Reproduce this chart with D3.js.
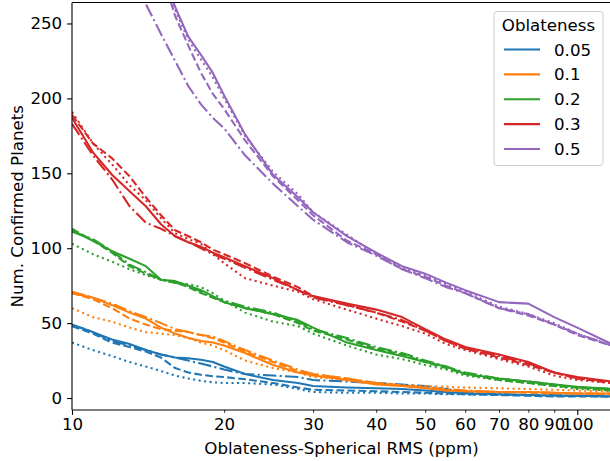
<!DOCTYPE html>
<html>
<head>
<meta charset="utf-8">
<script src="https://cdn.jsdelivr.net/npm/d3@7"></script>
<style>
  html, body { margin: 0; padding: 0; background: #fff; }
  svg { display: block; font-family: "DejaVu Sans", sans-serif; }
</style>
</head>
<body>
<svg id="chart" width="610" height="461"></svg>
<script>
// RMS sample positions (ppm)
const xs = [10, 11, 12, 13, 14, 15, 16, 17, 18, 19, 20, 22, 25, 28, 30, 35, 40, 45, 50, 55, 60, 70, 80, 90, 100, 117];

const oblateness = ["0.05", "0.1", "0.2", "0.3", "0.5"];
const colors = ["#1f77b4", "#ff7f0e", "#2ca02c", "#d62728", "#9467bd"];
const styles = ["solid", "dashed", "dotted", "dashdot"];

// Number of confirmed planets above each RMS value, per oblateness and run
const obl005Solid   = [49, 44, 39, 36, 32, 29, 27, 26.5, 25.5, 24, 21, 16, 12, 10, 8, 7, 6.5, 6, 5, 4, 3, 2.5, 2, 1.5, 1.5, 1];
const obl005Dashed  = [48, 43, 37, 34, 31, 27, 20, 17, 15.5, 14.5, 14, 12.5, 10, 7, 5.5, 5, 4.5, 4, 3.5, 3, 2.5, 2, 1.5, 1, 1, 1];
const obl005Dotted  = [37, 32, 28, 24, 21, 18, 15, 13, 11.5, 10.5, 10, 10, 9, 6, 4, 3.5, 3.5, 3, 3, 2.5, 2.5, 2, 2, 1.5, 1.5, 1];
const obl005DashDot = [49, 44, 38, 35, 32, 29, 27, 25, 23, 21, 19, 16, 15, 14, 12, 11, 10, 9, 8, 6, 3.5, 2.5, 2, 2, 1.5, 1.5];

const obl01Solid    = [70, 67, 62, 57, 53, 47, 43, 40, 38, 37, 35, 30, 22, 17, 15, 12, 9, 8, 6.5, 5, 4.5, 4, 4, 3.5, 3, 3];
const obl01Dashed   = [70, 66, 60, 53, 49, 46, 45, 44, 42, 40, 37, 31, 24, 18, 16, 13, 10, 8, 7, 5, 4.5, 4, 3.5, 3, 3, 2.5];
const obl01Dotted   = [60, 54, 51, 47, 44, 43, 42, 40, 37, 35, 32, 25, 20, 17, 14, 12, 10, 8.5, 8, 7.5, 7, 6.5, 6, 5.5, 5, 4.5];
const obl01DashDot  = [71, 67, 63, 58, 54, 50, 46, 44, 42, 41, 38, 32, 25, 19, 16, 13, 10, 8.5, 7, 6, 5, 4, 4, 3.5, 3, 3];

const obl02Solid    = [112, 105, 98, 93, 88, 79, 78, 75, 72, 68, 64, 60, 56, 52, 47, 37, 32, 28, 24, 21, 16, 13, 11, 9, 7.5, 6];
const obl02Dashed   = [113, 105, 97, 88, 83, 79, 77, 74, 70, 67, 64, 60, 56, 50, 45, 39, 33, 29, 24, 20, 16, 12, 10, 8, 7, 5];
const obl02Dotted   = [103, 96, 91, 86, 82, 79, 77, 76, 74, 70, 65, 57, 51, 48, 43, 35, 29, 26, 22, 19, 15, 12, 10, 8, 6, 5];
const obl02DashDot  = [111, 106, 98, 89, 84, 79, 77, 75, 71, 67, 65, 61, 57, 51, 46, 40, 34, 30, 25, 21, 17, 13, 11, 9, 7, 6];

const obl03Solid    = [187, 164, 149, 138, 128, 116, 108, 104, 101, 97, 94, 88, 80, 72, 68, 63, 59, 54, 46, 39, 34, 29, 24, 17, 14, 11];
const obl03Dashed   = [189, 170, 160, 148, 134, 122, 112, 108, 104, 99, 96, 90, 81, 74, 68, 62, 57, 51, 45, 38, 33, 27, 22, 17, 13, 10];
const obl03Dotted   = [191, 170, 156, 142, 132, 120, 110, 106, 103, 96, 90, 80, 75, 71, 66, 59, 53, 48, 43, 36, 32, 26, 21, 15, 12, 10];
const obl03DashDot  = [183, 162, 146, 128, 117, 113, 108, 104, 100, 96, 93, 87, 79, 72, 67, 62, 57, 52, 45, 38, 33, 28, 23, 17, 13, 11];

const obl05Solid    = [null, null, null, null, null, 288, 261, 241, 229, 217, 202, 176, 149, 134, 124, 108, 97, 88, 83, 77, 72, 64, 63, 54, 47, 36];
const obl05Dashed   = [null, null, null, null, null, 285, 255, 235, 217, 203, 193, 172, 148, 132, 122, 105, 96, 86, 81, 75, 70, 60, 55, 49, 42, 35];
const obl05Dotted   = [null, null, null, null, null, 287, 259, 239, 226, 214, 200, 175, 151, 136, 124, 109, 96, 87, 82, 76, 71, 61, 56, 50, 43, 35];
const obl05DashDot  = [null, null, null, 290, 263, 243, 225, 208, 196, 187, 180, 162, 143, 128, 119, 104, 95, 86, 80, 74, 70, 60, 56, 49, 43, 35];

const xTickValues = [10, 20, 30, 40, 50, 60, 70, 80, 90, 100];
const yTickValues = [0, 50, 100, 150, 200, 250];

const groups = [
  [obl005Solid, obl005Dashed, obl005Dotted, obl005DashDot],
  [obl01Solid, obl01Dashed, obl01Dotted, obl01DashDot],
  [obl02Solid, obl02Dashed, obl02Dotted, obl02DashDot],
  [obl03Solid, obl03Dashed, obl03Dotted, obl03DashDot],
  [obl05Solid, obl05Dashed, obl05Dotted, obl05DashDot]
];

const lw = 2.08;
const dashes = {
  solid: null,
  dashed: [3.7 * lw, 1.6 * lw].join(","),
  dotted: [1 * lw, 1.65 * lw].join(","),
  dashdot: [6.4 * lw, 1.6 * lw, 1 * lw, 1.6 * lw].join(",")
};

const plotLeft = 72, plotRight = 611, plotTop = 2.5, plotBottom = 410;
const fs = 16.67;

const svg = d3.select("#chart");

const x = d3.scaleLog().domain([10, 116.6]).range([plotLeft, plotRight]);
const y = d3.scaleLinear().domain([-8, 264]).range([plotBottom, plotTop]);

svg.append("defs").append("clipPath").attr("id", "plotClip")
  .append("rect").attr("x", plotLeft).attr("y", plotTop)
  .attr("width", plotRight - plotLeft).attr("height", plotBottom - plotTop);

const line = d3.line()
  .defined(d => d[1] != null)
  .x(d => x(d[0]))
  .y(d => y(d[1]));

const plot = svg.append("g").attr("clip-path", "url(#plotClip)");

groups.forEach((grp, gi) => {
  grp.forEach((vals, si) => {
    const pts = xs.map((xv, i) => [xv, vals[i]]);
    plot.append("path")
      .attr("d", line(pts))
      .attr("fill", "none")
      .attr("stroke", colors[gi])
      .attr("stroke-width", lw)
      .attr("stroke-dasharray", dashes[styles[si]])
      .attr("stroke-linejoin", "round");
  });
});

// Axes
const xAxis = d3.axisBottom(x)
  .tickValues(xTickValues)
  .tickFormat(d3.format("d"))
  .tickSizeOuter(0)
  .tickPadding(4.9);

const gx = svg.append("g").attr("transform", `translate(0,${plotBottom})`).call(xAxis);
gx.select(".domain").remove();
gx.selectAll(".tick line")
  .attr("stroke", "#000")
  .attr("y2", d => (d === 10 || d === 100) ? 4.9 : 2.8)
  .attr("stroke-width", d => (d === 10 || d === 100) ? 1.1 : 0.83);
gx.selectAll(".tick text")
  .attr("fill", "#000")
  .attr("font-size", fs)
  .attr("font-family", "DejaVu Sans")
  .attr("y", 8.6)
  .attr("dy", "0.71em");

const yAxis = d3.axisLeft(y)
  .tickValues(yTickValues)
  .tickSize(4.9)
  .tickPadding(4.9)
  .tickSizeOuter(0);

const gy = svg.append("g").attr("transform", `translate(${plotLeft},0)`).call(yAxis);
gy.select(".domain").remove();
gy.selectAll(".tick line").attr("stroke", "#000").attr("stroke-width", 1.1);
gy.selectAll(".tick text")
  .attr("fill", "#000")
  .attr("font-size", fs)
  .attr("font-family", "DejaVu Sans");

// Frame
const frame = svg.append("g").attr("fill", "none").attr("stroke", "#000").attr("stroke-width", 1.1);
frame.append("line").attr("x1", plotLeft).attr("x2", plotLeft).attr("y1", plotTop).attr("y2", plotBottom);
frame.append("line").attr("x1", plotLeft).attr("x2", plotRight).attr("y1", plotBottom).attr("y2", plotBottom);
frame.append("line").attr("x1", plotLeft).attr("x2", plotRight).attr("y1", plotTop).attr("y2", plotTop);
frame.append("line").attr("x1", plotRight).attr("x2", plotRight).attr("y1", plotTop).attr("y2", plotBottom);

// Axis titles
svg.append("text")
  .attr("x", (plotLeft + plotRight) / 2)
  .attr("y", 454)
  .attr("text-anchor", "middle")
  .attr("font-size", fs)
  .text("Oblateness-Spherical RMS (ppm)");

svg.append("text")
  .attr("transform", `translate(23,${(plotTop + plotBottom) / 2}) rotate(-90)`)
  .attr("text-anchor", "middle")
  .attr("font-size", fs)
  .text("Num. Confirmed Planets");

// Legend
const lg = svg.append("g");
lg.append("rect")
  .attr("x", 494).attr("y", 11.5)
  .attr("width", 109).attr("height", 154)
  .attr("rx", 3).attr("ry", 3)
  .attr("fill", "#fff").attr("fill-opacity", 0.8)
  .attr("stroke", "#cccccc").attr("stroke-width", 1);
lg.append("text")
  .attr("x", 548.5).attr("y", 30.5)
  .attr("text-anchor", "middle")
  .attr("font-size", fs)
  .text("Oblateness");
const entryY = d3.scaleLinear().domain([0, 4]).range([49.5, 149]);
oblateness.forEach((lab, i) => {
  const yy = entryY(i);
  lg.append("line")
    .attr("x1", 504).attr("x2", 540)
    .attr("y1", yy).attr("y2", yy)
    .attr("stroke", colors[i]).attr("stroke-width", lw);
  lg.append("text")
    .attr("x", 554).attr("y", yy)
    .attr("dy", "0.36em")
    .attr("font-size", fs)
    .text(lab);
});
</script>
</body>
</html>
